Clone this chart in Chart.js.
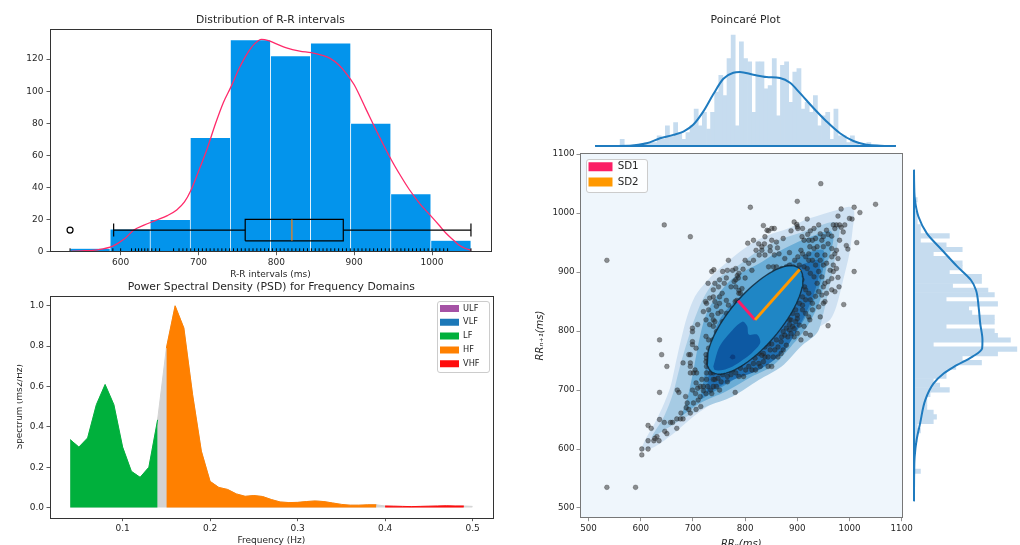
<!DOCTYPE html>
<html><head><meta charset="utf-8">
<script src="https://cdn.jsdelivr.net/npm/chart.js@4.4.1/dist/chart.umd.min.js"></script>
<style>
html,body{margin:0;padding:0;background:#fff;}
body{width:1020px;height:545px;overflow:hidden;position:relative;}
canvas{position:absolute;display:block;}
#hist{left:0;top:0;} #psd{left:17px;top:280px;} #poin{left:505px;top:145px;} #margX{left:580px;top:0;} #margY{left:912px;top:150px;}
</style></head><body>
<canvas id="hist" width="510" height="285"></canvas>
<canvas id="psd" width="493" height="265"></canvas>
<canvas id="poin" width="410" height="400"></canvas>
<canvas id="margX" width="331" height="149"></canvas>
<canvas id="margY" width="110" height="372"></canvas>
<script>
// ---------------- DATA ----------------
// R-R interval histogram
const histEdges = [535, 586.5, 638, 689.5, 741, 792.5, 844, 895.5, 947, 998.5, 1050];
const histCounts = [2, 14, 20, 71, 132, 122, 130, 80, 36, 7];
const kdeRR = [[537,0.3],[550,0.5],[570,1.2],[590,3.5],[605,8],[617,13.5],[630,16.5],[645,19.5],[660,22.5],[672,26],[682,31],[690,38],[700,50],[711,64],[722,80],[732,93],[742,103],[752,114],[762,123],[772,129.5],[781,132.3],[790,131.5],[800,129.5],[813,127],[830,125],[845,124],[858,122.5],[869,120.5],[880,116.5],[890,111],[900,104],[915,89],[930,74],[948,57],[960,47],[971,38.6],[985,29.5],[999,22],[1010,16],[1018,11.5],[1028,7],[1035,4],[1043,2],[1050,1]];
const boxStats = {low: 591, q1: 760, median: 820, q3: 886, high: 1050};
const boxOutliers = [535];
const rugRR = [535,590,600,614,619,623,627,631,635,640,645,650,668,675,680,685,690,695,700,705,710,715,720,725,730,735,740,745,750,755,760,765,770,775,780,785,790,795,800,805,810,815,820,825,830,835,840,845,850,855,860,865,870,875,880,885,890,895,900,905,910,915,920,925,930,935,940,945,950,955,960,965,970,975,980,985,990,995,1000,1005,1010,1015,1020,1050];

// PSD
const psdFreq = [0.04,0.05,0.06,0.07,0.08,0.09,0.10,0.11,0.12,0.13,0.14,0.15,0.16,0.17,0.18,0.19,0.20,0.21,0.22,0.23,0.24,0.25,0.26,0.27,0.28,0.29,0.30,0.31,0.32,0.33,0.34,0.35,0.36,0.37,0.38,0.39,0.40,0.41,0.42,0.43,0.44,0.45,0.46,0.47,0.48,0.49,0.50];
const psdPower = [0.337,0.30,0.345,0.51,0.61,0.51,0.30,0.18,0.15,0.20,0.435,0.79,1.00,0.89,0.56,0.28,0.13,0.10,0.09,0.068,0.056,0.06,0.055,0.04,0.028,0.025,0.026,0.03,0.033,0.03,0.023,0.016,0.012,0.012,0.014,0.014,0.008,0.007,0.006,0.005,0.006,0.007,0.008,0.009,0.008,0.008,0.006];
const bandNames = ['ULF','VLF','LF','HF','VHF'];
const bandLimits = [[0,0.0033],[0.0033,0.04],[0.04,0.15],[0.15,0.4],[0.4,0.5]];

// Poincaré
const meanRR = 819, sd1 = 46, sd2 = 121;
const poincarePoints = [[535,535],[590,535],[535,920],[645,980],[695,960],[810,1010],[900,1020],[945,1050],[1050,1015],[1009,1010],[1020,1001],[1014,950],[1009,901],[989,845],[959,809],[924,819],[781,696],[636,785],[640,760],[650,740],[636,696],[602,600],[602,590],[614,600],[614,640],
[620,635],[614,614],[625,614],[631,621],[635,614],[627,618],[636,650],[645,645],[646,630],[650,626],[657,645],[661,645],[669,635],[669,651],[676,651],[681,651],[677,661],[687,670],[689,678],[692,667],[695,661],[686,689],[673,696],[670,700],[681,746],[692,760],[695,760],[699,777],[699,782],[699,799],[699,805],[706,771],[695,746],[695,740],[704,734],[695,729],[701,729],[707,729],[699,700],[706,712],[705,694],[710,683],[701,678],[706,667],[715,672],[714,689],[720,699],[725,694],[728,706],[720,706],[726,729],[725,760],[725,748],[730,746],[734,729],[739,729],[742,718],[739,706],[734,700],[709,811],[726,847],[730,836],[736,827],[742,816],[742,850],[729,881],[736,901],[740,904],[749,875],[751,858],[756,864],[760,881],[764,890],[773,875],[764,852],[768,844],[751,847],[754,833],[745,842],[732,856],[782,875],[779,884],[782,887],[787,890],[768,920],[782,906],[796,905],[785,894],[788,869],[791,864],[781,850],[782,841],[800,890],[816,920],[813,903],[832,937],[832,943],[837,948],[838,960],[842,971],[835,979],[845,970],[851,974],[856,974],[848,936],[856,929],[862,941],[865,931],[876,923],[885,933],[894,985],[899,981],[900,977],[901,974],[919,990],[909,960],[913,954],[920,964],[924,943],[932,940],[941,980],[947,954],[950,943],[956,971],[959,964],[969,980],[975,980],[981,980],[991,980],[978,995],[984,1007],[1000,991],[1005,990],[966,961],[959,948],[966,940],[972,931],[978,923],[994,945],[997,939],[975,906],[969,901],[978,891],[980,875],[972,867],[966,870],[956,864],[953,850],[953,881],[947,892],[941,901],[935,912],[929,920],[938,929],[944,920],[950,912],[922,920],[916,926],[922,931],[913,909],[919,906],[925,898],[932,892],[938,881],[941,867],[947,861],[935,859],[929,847],[916,853],[910,844],[910,836],[916,830],[922,824],[929,836],[941,841],[950,847],[944,824],[900,821],[897,816],[904,810],[894,804],[900,796],[894,790],[885,802],[882,790],[876,793],[870,790],[879,776],[873,768],[869,782],[860,785],[863,773],[857,768],[854,756],[851,778],[848,768],[844,756],[838,773],[835,762],[832,776],[835,748],[829,740],[844,740],[826,762],[819,754],[813,734],[816,745],[807,740],[801,734],[797,723],[788,723],[782,729],[776,734],[770,740],[763,734],[757,732],[751,729],[748,720],[757,726],[766,723],[773,726],[785,746],[795,746],[791,737],[807,762],[801,754],[745,706],[751,700],[754,714],[766,714],[736,694],[739,718],[726,718],[717,718],[714,706],[709,703],[726,740],[732,751],[739,740],[742,757],[726,754],[730,771],[730,785],[725,791],[739,808],[739,819],[745,799],[754,796],[757,816],[748,830],[764,830],[776,838],[784,852],[788,841],[788,864],[794,872],[845,909],[854,909],[860,909],[857,901],[870,906],[879,909],[885,912],[892,909],[895,920],[901,926],[907,937],[910,931],[904,912],[898,898],[901,892],[909,887],[914,875],[916,870],[910,858],[922,864],[925,853],[904,847],[897,836],[900,827],[891,830],[888,819],[891,808],[885,811],[879,805],[885,819],[873,799],[888,796],[913,808],[916,796],[907,785],[925,793],[869,762],[863,756],[851,740],[838,756],[832,759],[826,745],[820,734],[845,778],[950,875],[959,884],[966,889],[963,903],[969,912],[956,915],[953,929],[966,926],[975,937],[981,954],[988,968],[984,976],[972,974],[950,960],[944,965],[935,957],[929,954],[922,954],[925,970],[932,974],[938,943],[910,974],[888,970],[873,957],[860,951],[851,954],[848,943],[838,929],[827,929],[821,937],[826,948],[805,949],[816,954],[800,920],[807,915],[788,898],[776,903],[766,903],[757,901],[751,887],[742,881],[739,870],[739,858],[724,850],[720,833],[725,819],[732,811],[738,785],[744,779],[757,779],[766,790],[773,773],[782,779]];
// KDE contour levels (outer -> inner)
const contour1 = [[599,596],[627,604],[664,627],[701,655],[739,678],[776,695],[813,717],[851,734],[882,757],[913,785],[944,808],[963,819],[975,842],[988,887],[1000,932],[1006,972],[1009,1003],[1000,1011],[975,1005],[944,997],[913,988],[882,974],[845,963],[813,949],[782,929],[751,906],[726,884],[704,859],[689,825],[677,785],[667,746],[657,706],[645,678],[627,644],[608,615],[599,596]];
const contour2 = [[620,618],[677,649],[726,672],[776,689],[826,717],[870,740],[907,774],[938,797],[950,830],[963,881],[975,937],[981,977],[969,985],[938,977],[900,965],[863,954],[826,937],[788,912],[745,887],[722,859],[705,825],[690,785],[675,740],[662,695],[645,656],[625,627],[620,618]];
const contour3 = [[677,655],[714,678],[764,698],[813,723],[851,740],[888,774],[919,808],[944,853],[956,909],[969,954],[963,970],[932,962],[894,948],[857,931],[826,914],[780,892],[750,864],[726,830],[712,785],[700,729],[690,689],[677,655]];
const contour4 = [[714,683],[757,706],[801,729],[845,745],[882,779],[913,819],[938,864],[950,909],[950,937],[925,934],[888,917],[851,898],[813,875],[776,847],[751,819],[732,774],[723,729],[714,683]];
const contour5 = [[726,694],[776,717],[826,734],[870,762],[900,802],[925,847],[941,892],[941,920],[913,914],[876,903],[838,887],[801,864],[770,836],[748,796],[734,751],[726,694]];
const densePeak = [[739,740],[751,774],[776,802],[795,816],[804,808],[807,794],[823,794],[829,780],[813,763],[795,751],[776,740],[757,734],[742,734],[739,740]];
const densestCore = [[770,755],[774,760],[780,759],[781,754],[775,752],[770,755]];

// Marginal histograms (61 bins between 535 and 1050) and their KDE curves
const margRange = [535, 1050];
const margXCounts = [2,0,0,0,0,0,1,1,1,3,2,6,3,7,4,2,4,6,11,6,10,5,10,16,21,15,26,33,6,31,26,25,10,25,25,17,18,26,9,24,25,13,22,23,11,13,10,15,6,9,10,2,11,3,3,1,3,1,0,0,1];
const margYCounts = [2,0,0,0,0,0,0,1,1,2,1,6,7,6,4,4,4,5,11,8,6,10,10,13,21,15,26,32,6,30,26,25,10,25,25,18,17,26,10,25,23,12,21,21,11,15,15,11,6,15,10,2,11,2,2,1,1,1,0,0,1];
const margXKde = [[483.5,0],[555,0.1],[589.5,0.8],[617,2.3],[644,3.3],[665,4.3],[685,6.3],[706,10.3],[726,15.3],[747,20],[767.5,21.8],[781,22],[808.5,21.2],[836,20.5],[863,20.2],[884,18.8],[904,15.8],[932,11.3],[959,7.3],[986.5,3.8],[1014,1.5],[1041,0.4],[1069,0.1],[1101.5,0]];
const margYKde = [[483.5,0],[535,0.05],[566,0.2],[597.5,0.8],[628.5,1.9],[672,3.5],[703,6.1],[722,9.3],[734,12.4],[753,18.2],[768.6,21.2],[784,21.3],[815,20.6],[846,20.1],[877,19.3],[896,17.7],[921,13.5],[952,8.7],[983,4],[1014,1.4],[1045,0.3],[1075,0.05],[1101.5,0]];
const margLimits = [483.5, 1101.5];

// ---------------- STYLE / LAYOUT ----------------
const FONT = "'DejaVu Sans', sans-serif";
Chart.defaults.font.family = FONT;
Chart.defaults.font.size = 9;
Chart.defaults.color = '#262626';
Chart.defaults.animation = false;
Chart.defaults.events = [];
Chart.defaults.plugins.tooltip.enabled = false;

const BOX_Y = 13.5, BOX_HALF = 6.7, CAP_HALF = 4, RUG_Y = 1.06;
const bandColors = ['#a552a5', '#1c78b8', '#00b03c', '#ff8000', '#ff0d0d'];

const mplPlugin = {
  id: 'mpl',
  afterLayout(chart, args, o) {
    if (o.legendAt && chart.legend) { chart.legend.left = o.legendAt[0]; chart.legend.top = o.legendAt[1]; }
  },
  beforeDraw(chart, args, o) {
    const {ctx, chartArea: a} = chart;
    ctx.save();
    if (o.bg) { ctx.fillStyle = o.bg; ctx.fillRect(a.left, a.top, a.right - a.left, a.bottom - a.top); }
    const hb = chart.legend && chart.legend.legendHitBoxes;
    if (o.legendFrame && hb && hb.length) {
      const p = o.legendFrame;
      const L = Math.min(...hb.map(h => h.left)) - p[0], T = Math.min(...hb.map(h => h.top)) - p[1];
      const R = Math.max(...hb.map(h => h.left + h.width)) + p[2], B = Math.max(...hb.map(h => h.top + h.height)) + p[3];
      ctx.beginPath();
      if (ctx.roundRect) ctx.roundRect(Math.round(L) + 0.5, Math.round(T) + 0.5, Math.round(R - L), Math.round(B - T), 2.5);
      else ctx.rect(Math.round(L) + 0.5, Math.round(T) + 0.5, Math.round(R - L), Math.round(B - T));
      ctx.fillStyle = 'rgba(255,255,255,0.85)'; ctx.fill();
      ctx.strokeStyle = '#cccccc'; ctx.lineWidth = 1; ctx.stroke();
    }
    ctx.restore();
  },
  afterDraw(chart, args, o) {
    if (!o.border) return;
    const {ctx, chartArea: a} = chart;
    ctx.save(); ctx.strokeStyle = o.border; ctx.lineWidth = 1;
    ctx.strokeRect(Math.round(a.left) + 0.5, Math.round(a.top) + 0.5, Math.round(a.right - a.left), Math.round(a.bottom - a.top));
    ctx.restore();
  }
};

function axis(o) {
  return {
    type: 'linear', min: o.min, max: o.max, offset: false, display: true,
    afterFit: o.fit,
    ticks: {stepSize: o.step, includeBounds: false, padding: o.pad, font: {size: o.size || 9}, color: '#262626',
      callback: o.fmt || (v => String(v)), maxRotation: 0, autoSkip: false},
    grid: {display: true, drawOnChartArea: false, drawTicks: true, tickLength: 3.5, color: o.tickColor || '#333', lineWidth: 0.8, offset: false},
    border: {display: false},
    title: o.title || {display: false}
  };
}
function stack(list) { const n = list.length; list.forEach((d, i) => { d.order = n - i; }); return list; }
const pts = arr => arr.map(p => ({x: p[0], y: p[1]}));
function legendItems(chart) {
  return chart.data.datasets.map((d, i) => ({text: d.label || '', fillStyle: d.backgroundColor, strokeStyle: 'rgba(0,0,0,0)',
    lineWidth: 0, hidden: false, datasetIndex: i, fontColor: '#262626'})).filter(it => it.text);
}

// ---------------- CHART 1: R-R histogram ----------------
new Chart(document.getElementById('hist'), {
  type: 'bar',
  data: {datasets: stack([
    {type: 'bar', data: histCounts.map((c, i) => ({x: (histEdges[i] + histEdges[i + 1]) / 2, y: c})),
      backgroundColor: '#0394ec', borderColor: '#ffffff', borderWidth: 0.7, borderSkipped: false,
      barPercentage: 1, categoryPercentage: 1},
    {type: 'line', data: pts(kdeRR), borderColor: '#ff2a6a', borderWidth: 1.3, pointRadius: 0, fill: false, cubicInterpolationMode: 'monotone'},
    {type: 'line', data: [{x: boxStats.q1, y: BOX_Y - BOX_HALF}, {x: boxStats.q3, y: BOX_Y - BOX_HALF}, {x: boxStats.q3, y: BOX_Y + BOX_HALF}, {x: boxStats.q1, y: BOX_Y + BOX_HALF}, {x: boxStats.q1, y: BOX_Y - BOX_HALF}],
      borderColor: '#000', borderWidth: 1.2, pointRadius: 0, fill: false, tension: 0},
    {type: 'line', data: [{x: boxStats.low, y: BOX_Y}, {x: boxStats.q1, y: BOX_Y}, {x: boxStats.q1, y: null}, {x: boxStats.q3, y: BOX_Y}, {x: boxStats.high, y: BOX_Y}],
      borderColor: '#000', borderWidth: 1.2, pointRadius: 0, fill: false, spanGaps: false},
    {type: 'line', data: [{x: boxStats.low, y: BOX_Y - CAP_HALF}, {x: boxStats.low, y: BOX_Y + CAP_HALF}, {x: boxStats.low, y: null}, {x: boxStats.high, y: BOX_Y - CAP_HALF}, {x: boxStats.high, y: BOX_Y + CAP_HALF}],
      borderColor: '#000', borderWidth: 1.2, pointRadius: 0, fill: false, spanGaps: false},
    {type: 'line', data: [{x: boxStats.median, y: BOX_Y - BOX_HALF}, {x: boxStats.median, y: BOX_Y + BOX_HALF}],
      borderColor: '#ff7f0e', borderWidth: 1.2, pointRadius: 0, fill: false},
    {type: 'line', data: boxOutliers.map(v => ({x: v, y: BOX_Y})), showLine: false, pointRadius: 3, pointStyle: 'circle',
      pointBackgroundColor: 'rgba(0,0,0,0)', pointBorderColor: '#000', pointBorderWidth: 1.2},
    {type: 'line', data: rugRR.map(v => ({x: v, y: RUG_Y})), showLine: false, pointStyle: 'line', rotation: 90, pointRadius: 1.7,
      pointBorderColor: '#000', pointBorderWidth: 1}
  ])},
  options: {
    responsive: false,
    layout: {padding: {left: 0, right: 19, top: 0, bottom: 0}},
    plugins: {
      legend: {display: false},
      title: {display: true, text: 'Distribution of R-R intervals', fullSize: false, color: '#262626',
        font: {size: 10.8, weight: 'normal'}, padding: {top: 14, bottom: 2.3}},
      mpl: {border: '#333'}
    },
    scales: {
      x: axis({min: 509.25, max: 1075.75, step: 100, pad: 2.1, fit: s => { s.height = 33.3; },
        title: {display: true, text: 'R-R intervals (ms)', color: '#262626', font: {size: 9}, padding: {top: 0, bottom: 4.6}}}),
      y: axis({min: 0, max: 138.6, step: 20, pad: 3, fit: s => { s.width = 50; }})
    }
  },
  plugins: [mplPlugin]
});

// ---------------- CHART 2: PSD ----------------
const psdAll = psdFreq.map((f, i) => ({x: f, y: psdPower[i]}));
const bandSets = bandNames.map((name, b) => ({
  type: 'line', label: name,
  data: psdAll.filter(p => p.x >= bandLimits[b][0] - 1e-9 && p.x < bandLimits[b][1] - 1e-9),
  backgroundColor: bandColors[b], borderColor: bandColors[b], borderWidth: 1, pointRadius: 0, fill: 'origin', tension: 0
}));
new Chart(document.getElementById('psd'), {
  type: 'line',
  data: {datasets: stack([
    {type: 'line', data: psdAll, backgroundColor: '#d3d3d3', borderColor: '#d3d3d3', borderWidth: 1, pointRadius: 0, fill: 'origin', tension: 0},
    ...bandSets
  ])},
  options: {
    responsive: false,
    layout: {padding: {left: 0, right: 17.3, top: 0, bottom: 0}},
    plugins: {
      legend: {display: true, position: 'chartArea', align: 'start',
        labels: {boxWidth: 19, boxHeight: 7, padding: 5.6, font: {size: 8.2}, color: '#262626', generateLabels: legendItems}},
      title: {display: true, text: 'Power Spectral Density (PSD) for Frequency Domains', fullSize: false, color: '#262626',
        font: {size: 10.8, weight: 'normal'}, padding: {top: 0.8, bottom: 1.94}},
      mpl: {border: '#333', legendAt: [417.4, 18.8], legendFrame: [3.3, 3.4, 8.7, 3.9]}
    },
    scales: {
      x: axis({min: 0.017, max: 0.523, step: 0.1, pad: 1.7, fmt: v => v.toFixed(1), fit: s => { s.height = 27.3; },
        title: {display: true, text: 'Frequency (Hz)', color: '#262626', font: {size: 9}, padding: {top: 0, bottom: -1.4}}}),
      y: axis({min: -0.05, max: 1.05, step: 0.2, pad: 2.5, fmt: v => v.toFixed(1), fit: s => { s.width = 33; },
        title: {display: true, text: 'Spectrum (ms2/Hz)', color: '#262626', font: {size: 8.8}, padding: {top: -2.3, bottom: 0}}})
    }
  },
  plugins: [mplPlugin]
});

// ---------------- CHART 3: Poincaré ----------------
const S2 = Math.SQRT1_2;
const ellipse = [];
for (let k = 0; k <= 90; k++) {
  const t = k / 90 * 2 * Math.PI, u = (sd2 + 0.5) * Math.cos(t), v = (sd1 + 0.5) * Math.sin(t);
  ellipse.push({x: meanRR + (u - v) * S2, y: meanRR + (u + v) * S2});
}
const shape = (arr, color) => ({type: 'line', data: pts(arr), backgroundColor: color, borderWidth: 0, borderColor: color,
  pointRadius: 0, fill: 'shape', tension: 0.3});
new Chart(document.getElementById('poin'), {
  type: 'line',
  data: {datasets: stack([
    shape(contour1, '#cfe1f2'),
    shape(contour2, '#a6cbe4'),
    shape(contour3, '#6badd6'),
    shape(contour4, '#3d8dc5'),
    shape(contour5, '#1f6fb2'),
    {type: 'line', data: pts(poincarePoints), showLine: false, pointRadius: 2.4, pointStyle: 'circle',
      pointBackgroundColor: 'rgba(35,35,35,0.5)', pointBorderColor: 'rgba(35,35,35,0.55)', pointBorderWidth: 0.5},
    {type: 'line', data: ellipse, backgroundColor: '#1f86c5', borderWidth: 0, pointRadius: 0, fill: 'shape', tension: 0},
    shape(densePeak, '#0d59a3'),
    shape(densestCore, '#0a3f82'),
    {type: 'line', data: ellipse, borderColor: 'rgba(15,35,50,0.8)', borderWidth: 1.4, pointRadius: 0, fill: false, tension: 0},
    {type: 'line', label: 'SD1', data: [{x: meanRR, y: meanRR}, {x: meanRR - sd1 * S2, y: meanRR + sd1 * S2}],
      borderColor: '#fb1e66', backgroundColor: '#fb1e66', borderWidth: 3, pointRadius: 0, fill: false},
    {type: 'line', label: 'SD2', data: [{x: meanRR, y: meanRR}, {x: meanRR + sd2 * S2, y: meanRR + sd2 * S2}],
      borderColor: '#ff9800', backgroundColor: '#ff9800', borderWidth: 3, pointRadius: 0, fill: false}
  ])},
  options: {
    responsive: false,
    layout: {padding: {left: 0, right: 4, top: 8.3, bottom: 0}},
    plugins: {
      legend: {display: true, position: 'chartArea', align: 'start',
        labels: {boxWidth: 24, boxHeight: 9, padding: 5, font: {size: 10.3}, color: '#262626', generateLabels: legendItems}},
      title: {display: false},
      mpl: {bg: '#eff6fc', border: '#777', legendAt: [78.5, 11.65], legendFrame: [2.5, 2.65, 8.3, 4.75]}
    },
    scales: {
      x: axis({min: 483.5, max: 1101.5, step: 100, pad: 2.3, size: 8.7, tickColor: '#777', fit: s => { s.height = 27.3; },
        title: {display: true, text: 'RRₙ(ms)', color: '#262626', font: {size: 10, style: 'italic'}, padding: {top: 0, bottom: -5.5}}}),
      y: axis({min: 483.5, max: 1101.5, step: 100, pad: 2, size: 8.7, tickColor: '#777', fit: s => { s.width = 75; },
        title: {display: true, text: 'RRₙ₊₁(ms)', color: '#262626', font: {size: 10, style: 'italic'}, padding: {top: 29, bottom: 0}}})
    }
  },
  plugins: [mplPlugin]
});

// ---------------- CHART 4: top marginal ----------------
const margW = (margRange[1] - margRange[0]) / margXCounts.length;
new Chart(document.getElementById('margX'), {
  type: 'bar',
  data: {datasets: stack([
    {type: 'bar', data: margXCounts.map((c, i) => ({x: margRange[0] + (i + 0.5) * margW, y: c})),
      backgroundColor: '#c6dcef', borderWidth: 0, barPercentage: 1, categoryPercentage: 1},
    {type: 'line', data: [{x: margLimits[0], y: 0}, {x: margLimits[1], y: 0}], borderColor: '#1f7bbf', borderWidth: 2, pointRadius: 0, fill: false, clip: false},
    {type: 'line', data: pts(margXKde), borderColor: '#1f7bbf', borderWidth: 2, pointRadius: 0, fill: false, cubicInterpolationMode: 'monotone'}
  ])},
  options: {
    responsive: false,
    layout: {padding: {left: 0, right: 0, top: 0, bottom: 3}},
    plugins: {
      legend: {display: false},
      title: {display: true, text: 'Poincaré Plot', fullSize: false, color: '#262626', font: {size: 10.8, weight: 'normal'}, padding: {top: 14.2, bottom: 2.34}}
    },
    scales: {
      x: {type: 'linear', display: false, min: 452.6, max: 1132.4, offset: false, ticks: {stepSize: 100}},
      y: {type: 'linear', display: false, min: 0, max: 34.65}
    }
  }
});

// ---------------- CHART 5: right marginal ----------------
new Chart(document.getElementById('margY'), {
  type: 'bar',
  data: {datasets: stack([
    {type: 'bar', data: margYCounts.map((c, i) => ({y: margRange[0] + (i + 0.5) * margW, x: c})),
      backgroundColor: '#c6dcef', borderWidth: 0, barPercentage: 1, categoryPercentage: 1},
    {type: 'line', indexAxis: 'y', data: [{x: 0, y: margLimits[0]}, {x: 0, y: margLimits[1]}], borderColor: '#1f7bbf', borderWidth: 2, pointRadius: 0, fill: false, clip: false},
    {type: 'line', indexAxis: 'y', data: margYKde.map(p => ({y: p[0], x: p[1]})), borderColor: '#1f7bbf', borderWidth: 2, pointRadius: 0, fill: false, cubicInterpolationMode: 'monotone'}
  ])},
  options: {
    responsive: false, indexAxis: 'y',
    layout: {padding: {left: 2, right: 0, top: 3.3, bottom: 4.3}},
    plugins: {legend: {display: false}, title: {display: false}},
    scales: {
      x: {type: 'linear', display: false, min: 0, max: 33.6},
      y: {type: 'linear', display: false, min: 452.6, max: 1132.4, offset: false, ticks: {stepSize: 100}}
    }
  }
});
</script>
</body></html>
